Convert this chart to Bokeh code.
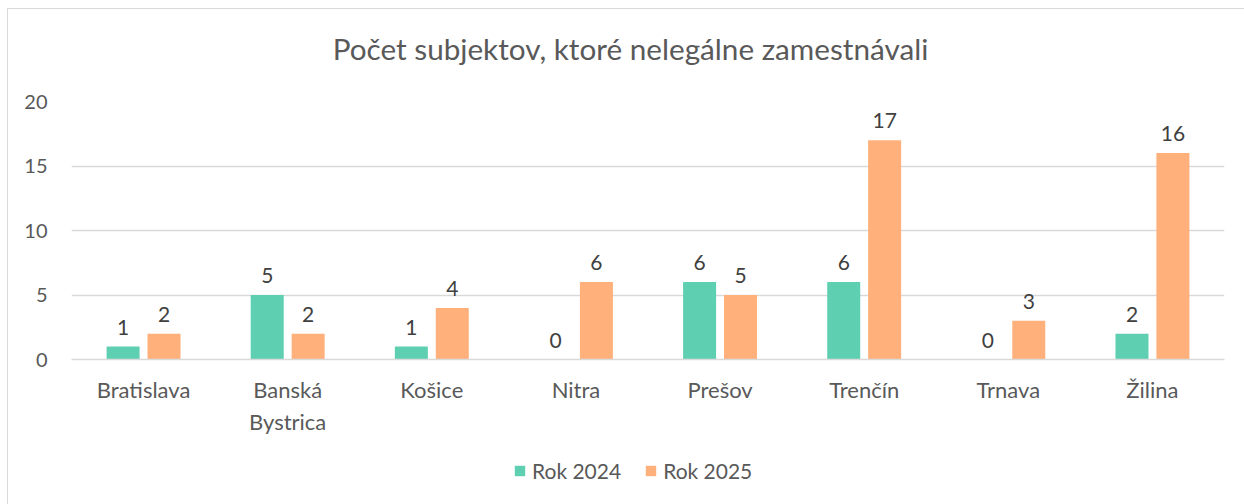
from bokeh.plotting import figure
from bokeh.layouts import column
from bokeh.models import ColumnDataSource, FactorRange, Legend, LegendItem, FixedTicker, Label
from bokeh.transform import dodge
from bokeh.core.properties import value
from bokeh.embed import file_html
from bokeh.resources import INLINE

# ---- data ----
categories = ["Bratislava", "Banská\nBystrica", "Košice", "Nitra", "Prešov", "Trenčín", "Trnava", "Žilina"]
rok_2024 = [1, 5, 1, 0, 6, 6, 0, 2]
rok_2025 = [2, 2, 4, 6, 5, 17, 3, 16]
y_ticks = [0, 5, 10, 15, 20]
series_names = ["Rok 2024", "Rok 2025"]
chart_title = "Počet subjektov, ktoré nelegálne zamestnávali"

FONT = "Lato"
C24 = "#5ECFB1"
C25 = "#FFB07B"
GRID = "#D9D9D9"
TXT = "#595959"
W = 1236
OFF = 0.142
BW = 0.229

src = ColumnDataSource(dict(
    cat=categories,
    y24=rok_2024,
    y25=rok_2025,
    l24=[str(v) for v in rok_2024],
    l25=[str(v) for v in rok_2025],
))

# ---- main chart ----
p = figure(
    x_range=FactorRange(*categories), y_range=(0, 20),
    width=W, height=350, output_backend="svg", toolbar_location=None,
    min_border_left=63, min_border_right=20, min_border_top=12, min_border_bottom=80,
)
p.outline_line_color = None
p.background_fill_color = "white"
p.border_fill_color = "white"

r1 = p.vbar(x=dodge("cat", -OFF, range=p.x_range), top="y24", width=BW,
            source=src, fill_color=C24, line_color=None)
r2 = p.vbar(x=dodge("cat", OFF, range=p.x_range), top="y25", width=BW,
            source=src, fill_color=C25, line_color=None)

for off, col, lab in [(-OFF, "y24", "l24"), (OFF, "y25", "l25")]:
    p.text(x=dodge("cat", off, range=p.x_range), y=col, text=lab, source=src,
           text_align="center", text_baseline="bottom", y_offset=-12,
           text_font=value(FONT), text_font_size="21px", text_color="#404040")

p.xgrid.visible = False
p.ygrid.ticker = FixedTicker(ticks=y_ticks)
p.ygrid.grid_line_color = GRID
p.ygrid.grid_line_width = 1.5

p.yaxis.ticker = FixedTicker(ticks=y_ticks)
p.yaxis.axis_line_color = None
p.yaxis.major_tick_line_color = None
p.yaxis.minor_tick_line_color = None
p.yaxis.major_label_standoff = 18
p.yaxis.major_label_text_font = FONT
p.yaxis.major_label_text_font_size = "20px"
p.yaxis.major_label_text_color = TXT

p.xaxis.axis_line_color = GRID
p.xaxis.axis_line_width = 1.5
p.xaxis.major_tick_line_color = None
p.xaxis.minor_tick_line_color = None
p.xaxis.major_label_standoff = 10
p.xaxis.major_label_text_font = FONT
p.xaxis.major_label_text_font_size = "22px"
p.xaxis.major_label_text_color = TXT


def strip(height, x_range=(0, 1)):
    f = figure(width=W, height=height, x_range=x_range, y_range=(1000, 1001),
               output_backend="svg", toolbar_location=None,
               x_axis_location=None, y_axis_location=None,
               min_border=0)
    f.grid.visible = False
    f.outline_line_color = None
    f.border_fill_color = "white"
    f.background_fill_color = "white"
    return f


# ---- title strip ----
top = strip(80)
top.add_layout(Label(x=559, y=41, x_units="screen", y_units="screen", text=chart_title,
                     text_align="center", text_baseline="middle", text_font=FONT,
                     text_font_size="29.7px", text_color=TXT))

# ---- legend strip (key renderers share the series styling; their bars lie far outside this strip's range) ----
leg = strip(65, x_range=p.x_range)
k1 = leg.vbar(x=dodge("cat", -OFF, range=p.x_range), top="y24", width=BW,
              source=src, fill_color=C24, line_color=None)
k2 = leg.vbar(x=dodge("cat", OFF, range=p.x_range), top="y25", width=BW,
              source=src, fill_color=C25, line_color=None)
legend = Legend(items=[LegendItem(label=series_names[0], renderers=[k1]),
                       LegendItem(label=series_names[1], renderers=[k2])],
                orientation="horizontal", location=(442, 21),
                glyph_width=13, glyph_height=13, label_standoff=6, spacing=23,
                padding=0, margin=0, border_line_color=None, background_fill_alpha=0,
                label_text_font=FONT, label_text_font_size="21px", label_text_color=TXT)
leg.add_layout(legend)

layout = column(top, p, leg, spacing=0)
layout.margin = (8, 0, 0, 7)
layout.styles = {"border-top": "1px solid #D9D9D9", "border-left": "1px solid #D9D9D9"}

open("out.html", "w").write(file_html(layout, INLINE))
